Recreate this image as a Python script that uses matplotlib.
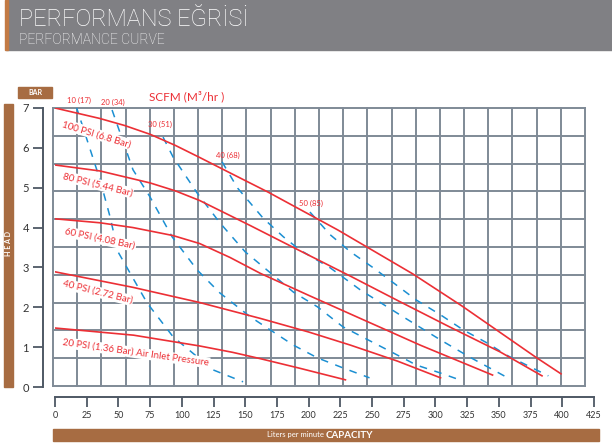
import matplotlib.pyplot as plt
from matplotlib.patches import Rectangle

W, H = 612, 446

RED = '#ec2f35'
BLUE = '#1b8fd2'
BROWN = '#a76c42'
GRID = '#7f8a96'

x_ticks = list(range(0, 426, 25))
y_ticks = list(range(0, 8))

# pressure curves: capacity (l/min) vs head (bar)
psi100_x = [0, 35, 55, 75, 95, 114, 140, 168, 223, 282, 321, 379, 399]
psi100_y = [7.0, 6.74, 6.56, 6.34, 6.06, 5.76, 5.34, 4.89, 3.94, 2.84, 2.03, 0.75, 0.33]
psi80_x = [0, 35.5, 75, 95, 114, 154, 193, 233, 272, 311, 351, 384]
psi80_y = [5.57, 5.42, 5.12, 4.92, 4.68, 4.05, 3.42, 2.78, 2.14, 1.51, 0.88, 0.28]
psi60_x = [0, 35.5, 61.5, 93, 114, 138, 162, 200, 233, 288, 345]
psi60_y = [4.22, 4.12, 4.0, 3.8, 3.6, 3.25, 2.85, 2.3, 1.83, 1.05, 0.30]
psi40_x = [0, 61.5, 114, 162, 200, 233, 270, 304]
psi40_y = [2.89, 2.50, 2.12, 1.72, 1.38, 1.05, 0.65, 0.23]
psi20_x = [0, 62, 114, 140, 162, 193, 229]
psi20_y = [1.48, 1.30, 1.03, 0.87, 0.71, 0.47, 0.18]

# air consumption lines (SCFM)
scfm10_x = [16.6, 35.5, 43.4, 49.7, 72.6, 93.1, 124.6, 148.3]
scfm10_y = [7.05, 5.20, 4.27, 3.39, 2.11, 1.26, 0.43, 0.13]
scfm20_x = [45, 61.5, 74.9, 92.3, 112, 130, 154, 188, 207, 227, 248]
scfm20_y = [6.95, 5.45, 4.77, 3.77, 2.94, 2.36, 1.76, 1.05, 0.73, 0.48, 0.23]
scfm30_x = [85.2, 93.1, 112, 130, 150, 170, 188, 207, 227, 247, 267, 285, 304, 319]
scfm30_y = [6.27, 5.77, 4.87, 4.12, 3.39, 2.86, 2.38, 2.01, 1.51, 1.18, 0.85, 0.55, 0.35, 0.18]
scfm40_x = [131.7, 144, 164, 180, 193, 217, 241, 272, 304, 327, 357]
scfm40_y = [5.65, 4.99, 4.24, 3.77, 3.44, 2.99, 2.43, 1.81, 1.18, 0.75, 0.23]
scfm50_x = [201, 217, 233, 251, 267, 285, 304, 322, 341, 356, 375, 389]
scfm50_y = [4.39, 3.82, 3.39, 2.99, 2.61, 2.18, 1.81, 1.43, 1.10, 0.80, 0.50, 0.28]

pressure_curves = [(psi100_x, psi100_y), (psi80_x, psi80_y), (psi60_x, psi60_y),
                   (psi40_x, psi40_y), (psi20_x, psi20_y)]
scfm_curves = [(scfm10_x, scfm10_y), (scfm20_x, scfm20_y), (scfm30_x, scfm30_y),
               (scfm40_x, scfm40_y), (scfm50_x, scfm50_y)]
pressure_labels = ['100 PSI (6.8 Bar)', '80 PSI (5.44 Bar)', '60 PSI (4.08 Bar)',
                   '40 PSI (2.72 Bar)', '20 PSI (1.36 Bar) Air Inlet Pressure']
scfm_labels = ['10 (17)', '20 (34)', '30 (51)', '40 (68)', '50 (85)']
scfm_label_x = [19, 46, 83, 136, 202]
scfm_label_y = [7.2, 7.13, 6.6, 5.8, 4.6]

plt.rcParams['font.family'] = ['Lato', 'DejaVu Sans']

fig = plt.figure(figsize=(W / 100, H / 100), dpi=100)

# background layer in pixel coords: header, grid, side bars
bg = fig.add_axes([0, 0, 1, 1])
bg.set_xlim(0, W)
bg.set_ylim(H, 0)
bg.axis('off')

bg.add_patch(Rectangle((6, 0), W - 6, 50, color='#808084'))
bg.add_patch(Rectangle((5, 0), 3, 50, color='#c27a44'))
bg.text(19, 19, 'PERFORMANS EĞRİSİ', color='white', fontsize=17, va='center',
        family=['Roboto', 'DejaVu Sans'], fontweight='light')
bg.text(19, 40, 'PERFORMANCE CURVE', color='white', fontsize=10, va='center',
        family=['Roboto', 'DejaVu Sans'], fontweight='light')

gx0, gx1, ncols = 53, 585, 22
gy0, gy1, nrows = 108, 386, 10
for i in range(ncols + 1):
    x = gx0 + i * (gx1 - gx0) / ncols
    bg.plot([x, x], [gy0, gy1], color=GRID, lw=1.4, zorder=1)
for j in range(nrows + 1):
    y = gy0 + j * (gy1 - gy0) / nrows
    bg.plot([gx0, gx1], [y, y], color=GRID, lw=1.4, zorder=1)

bg.add_patch(Rectangle((4, 104), 9, 283, color=BROWN))
bg.text(8.5, 244, 'H E A D', color='white', fontsize=5, fontweight='bold',
        rotation=90, ha='center', va='center')
bg.add_patch(Rectangle((18, 87), 34, 11, color=BROWN))
bg.text(35, 92.5, 'BAR', color='white', fontsize=5, fontweight='bold',
        ha='center', va='center')
bg.add_patch(Rectangle((53, 429), 546, 12, color=BROWN))
bg.text(326, 435, 'Liters per minute ', color='white', fontsize=5.5,
        ha='right', va='center')
bg.text(326, 435, 'CAPACITY', color='white', fontsize=7, fontweight='bold',
        ha='left', va='center')

# data layer
ax = fig.add_axes([55 / W, (H - 387) / H, (594 - 55) / W, (387 - 108) / H])
ax.patch.set_alpha(0)
ax.set_xlim(0, 425)
ax.set_ylim(0, 7)
for s in ['top', 'right']:
    ax.spines[s].set_visible(False)
ax.spines['left'].set_position(('outward', 8.6))
ax.spines['bottom'].set_position(('outward', 7.2))
for s in ['left', 'bottom']:
    ax.spines[s].set_color('#4e5864')
    ax.spines[s].set_linewidth(1.4)
ax.set_xticks(x_ticks)
ax.set_yticks(y_ticks)
ax.tick_params(axis='both', direction='out', length=7.2, width=1.3, color='#4e5864',
               labelcolor='#333333')
ax.tick_params(axis='x', labelsize=6.5, pad=3)
ax.tick_params(axis='y', labelsize=8, pad=3)

for xs, ys in pressure_curves:
    ax.plot(xs, ys, color=RED, lw=1.2, zorder=3)
for xs, ys in scfm_curves:
    ax.plot(xs, ys, color=BLUE, lw=1.1, dashes=(5, 5), zorder=2)

label_pos = [(6, 6.6), (6, 5.3), (8, 3.9), (6, 2.6), (6, 1.12)]
label_rot = [-17, -14, -12, -14, -8]
for (x, y), rot, txt in zip(label_pos, label_rot, pressure_labels):
    ax.text(x, y, txt, color=RED, fontsize=7, rotation=rot, rotation_mode='anchor',
            ha='left', va='center', zorder=4,
            bbox=dict(boxstyle='square,pad=0.1', fc='white', ec='none'))

for x, y, txt in zip(scfm_label_x, scfm_label_y, scfm_labels):
    ax.text(x, y, txt, color=RED, fontsize=5.5, ha='center', va='center', zorder=4)

ax.text(104, 7.15, 'SCFM (M³/hr )', color=RED, fontsize=8.5, ha='center', va='bottom')

fig.savefig('out.png', dpi=100)
